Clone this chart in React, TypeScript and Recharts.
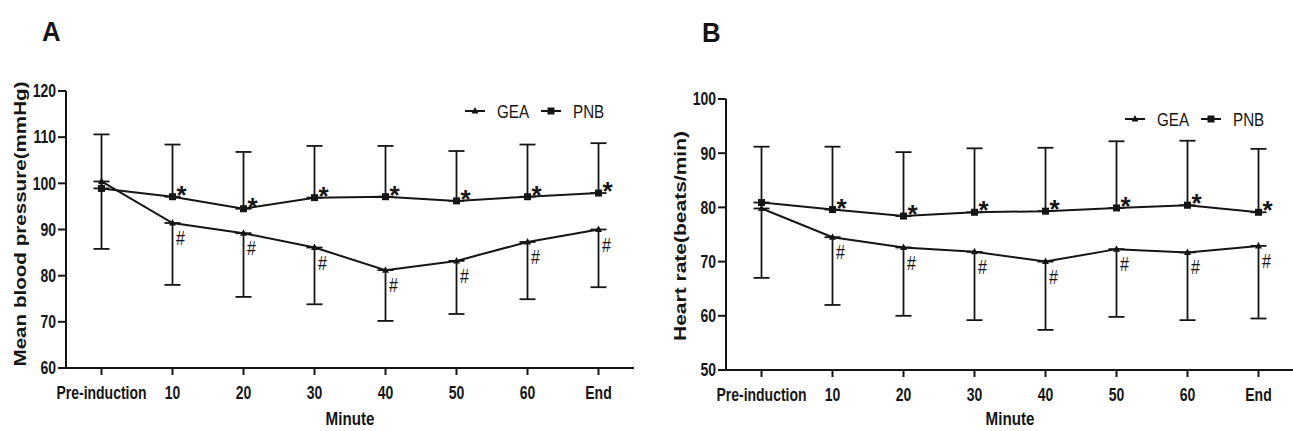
import React from "react"
import { LineChart, Line, XAxis, YAxis, ErrorBar, LabelList, Legend, Label } from "recharts"

const FONT = "'Liberation Sans', Arial, Helvetica, sans-serif"
const INK = "#151515"
// the source figure is squeezed sideways, so horizontal text is drawn narrower
const SQUASH = 0.8

const minutes = ["Pre-induction", "10", "20", "30", "40", "50", "60", "End"]
const geaMarks = ["", "#", "#", "#", "#", "#", "#", "#"]
const pnbMarks = ["", "*", "*", "*", "*", "*", "*", "*"]

// A: mean blood pressure (mmHg), mean and SD
const mapGea = [100.4, 91.4, 89.2, 86.1, 81.2, 83.2, 87.3, 90.0]
const mapGeaSd = [14.6, 13.4, 13.8, 12.3, 11.0, 11.5, 12.4, 12.5]
const mapPnb = [98.9, 97.1, 94.5, 96.9, 97.1, 96.2, 97.1, 97.9]
const mapPnbSd = [11.7, 11.3, 12.3, 11.2, 11.0, 10.8, 11.3, 10.8]
const mapTicks = [60, 70, 80, 90, 100, 110, 120]

// B: heart rate (beats/min), mean and SD
const hrGea = [79.8, 74.5, 72.6, 71.8, 70.0, 72.3, 71.7, 72.9]
const hrGeaSd = [12.8, 12.5, 12.6, 12.6, 12.6, 12.5, 12.5, 13.4]
const hrPnb = [80.9, 79.6, 78.4, 79.1, 79.3, 79.9, 80.4, 79.1]
const hrPnbSd = [10.3, 11.6, 11.8, 11.8, 11.7, 12.3, 11.9, 11.7]
const hrTicks = [50, 60, 70, 80, 90, 100]

function buildRows(gea: number[], geaSd: number[], pnb: number[], pnbSd: number[]) {
  return minutes.map((minute, i) => ({
    minute,
    gea: gea[i],
    geaErr: [geaSd[i], 0], // GEA bars point down
    pnb: pnb[i],
    pnbErr: [0, pnbSd[i]], // PNB bars point up
    geaSig: geaMarks[i],
    pnbSig: pnbMarks[i],
  }))
}

const mapRows = buildRows(mapGea, mapGeaSd, mapPnb, mapPnbSd)
const hrRows = buildRows(hrGea, hrGeaSd, hrPnb, hrPnbSd)

const TriangleDot = (props: any) => {
  const { cx, cy, index } = props
  if (cx == null || cy == null) return <g key={index} />
  return <path key={index} d={`M${cx},${cy - 4}L${cx + 3.5},${cy + 2.5}L${cx - 3.5},${cy + 2.5}Z`} fill={INK} />
}

const SquareDot = (props: any) => {
  const { cx, cy, index } = props
  if (cx == null || cy == null) return <g key={index} />
  return <rect key={index} x={cx - 3.5} y={cy - 3.5} width={7} height={7} fill={INK} />
}

const XTick = (props: any) => {
  const { x, y, payload } = props
  return (
    <text
      transform={`translate(${x},${y}) scale(${SQUASH},1)`}
      textAnchor="middle"
      dy="0.71em"
      fontFamily={FONT}
      fontWeight="bold"
      fontSize={17.5}
      fill={INK}
    >
      {payload.value}
    </text>
  )
}

const YTick = (props: any) => {
  const { x, y, payload } = props
  return (
    <text
      transform={`translate(${x},${y}) scale(${SQUASH},1)`}
      textAnchor="end"
      dy="0.36em"
      fontFamily={FONT}
      fontWeight="bold"
      fontSize={17.5}
      fill={INK}
    >
      {payload.value}
    </text>
  )
}

const StarMark = (props: any) => {
  const { x, y, value } = props
  if (!value) return null
  return (
    <text x={x + 9} y={y + 7} textAnchor="middle" fontFamily={FONT} fontWeight="bold" fontSize={26} fill={INK}>
      {value}
    </text>
  )
}

const HashMark = (props: any) => {
  const { x, y, value } = props
  if (!value) return null
  return (
    <text
      transform={`translate(${x + 8},${y + 22}) scale(${SQUASH},1)`}
      textAnchor="middle"
      fontFamily={FONT}
      fontSize={20}
      fill={INK}
    >
      {value}
    </text>
  )
}

const MinuteLabel = (props: any) => {
  const { viewBox } = props
  const cx = viewBox.x + viewBox.width / 2
  return (
    <text
      transform={`translate(${cx},425) scale(${SQUASH},1)`}
      textAnchor="middle"
      fontFamily={FONT}
      fontWeight="bold"
      fontSize={19}
      fill={INK}
    >
      Minute
    </text>
  )
}

const renderLegend = (props: any) => {
  const items = props.payload || []
  return (
    <svg width={160} height={22}>
      {items.map((item: any, i: number) => {
        const x0 = i === 0 ? 3 : 79
        const mx = x0 + 10
        return (
          <g key={item.value}>
            <line x1={x0} y1={11} x2={x0 + 20} y2={11} stroke={INK} strokeWidth={2} />
            {item.value === "GEA" ? (
              <path d={`M${mx},${7}L${mx + 3.5},${13.5}L${mx - 3.5},${13.5}Z`} fill={INK} />
            ) : (
              <rect x={mx - 3.5} y={7.5} width={7} height={7} fill={INK} />
            )}
            <text
              transform={`translate(${x0 + 32},11) scale(${SQUASH},1)`}
              dy="0.36em"
              fontFamily={FONT}
              fontSize={19}
              fill={INK}
            >
              {item.value}
            </text>
          </g>
        )
      })}
    </svg>
  )
}

interface PanelProps {
  left: number
  width: number
  top: number
  bottom: number
  right: number
  axisWidth: number
  rows: any[]
  domain: [number, number]
  ticks: number[]
  yLabel: string
  yLabelLength: number
  yLabelX: number
  yLabelShift: number
  legendLeft: number
  legendTop: number
}

function Panel(p: PanelProps) {
  const axisStyle = { stroke: INK, strokeWidth: 2 }
  return (
    <div style={{ position: "absolute", left: p.left, top: 0 }}>
      <LineChart width={p.width} height={431} data={p.rows} margin={{ top: p.top, right: p.right, bottom: p.bottom, left: 0 }}>
        <XAxis
          dataKey="minute"
          interval={0}
          height={40}
          padding={{ left: 35.5, right: 35.5 }}
          axisLine={axisStyle}
          tickLine={axisStyle}
          tickSize={7}
          tickMargin={12}
          tick={XTick}
        >
          <Label content={MinuteLabel} />
        </XAxis>
        <YAxis
          type="number"
          domain={p.domain}
          ticks={p.ticks}
          width={p.axisWidth}
          axisLine={axisStyle}
          tickLine={axisStyle}
          tickSize={8}
          tickMargin={2}
          tick={YTick}
        >
          <Label
            content={(lp: any) => {
              const vb = lp.viewBox
              const x = vb.x + p.yLabelX
              const y = vb.y + vb.height / 2 + p.yLabelShift
              return (
                <text
                  x={x}
                  y={y}
                  transform={`rotate(-90 ${x} ${y})`}
                  textAnchor="middle"
                  dy="0.36em"
                  textLength={p.yLabelLength}
                  lengthAdjust="spacingAndGlyphs"
                  fontFamily={FONT}
                  fontWeight="bold"
                  fontSize={17}
                  fill={INK}
                >
                  {p.yLabel}
                </text>
              )
            }}
          />
        </YAxis>
        <Legend
          layout="horizontal"
          verticalAlign="middle"
          align="center"
          wrapperStyle={{ left: p.legendLeft, top: p.legendTop, width: 160, height: 22 }}
          content={renderLegend}
        />
        <Line
          dataKey="gea"
          name="GEA"
          stroke={INK}
          strokeWidth={2}
          dot={TriangleDot}
          activeDot={false}
          isAnimationActive={false}
        >
          <ErrorBar dataKey="geaErr" direction="y" width={8} strokeWidth={1.8} stroke={INK} />
          <LabelList dataKey="geaSig" content={HashMark} />
        </Line>
        <Line
          dataKey="pnb"
          name="PNB"
          stroke={INK}
          strokeWidth={2}
          dot={SquareDot}
          activeDot={false}
          isAnimationActive={false}
        >
          <ErrorBar dataKey="pnbErr" direction="y" width={8} strokeWidth={1.8} stroke={INK} />
          <LabelList dataKey="pnbSig" content={StarMark} />
        </Line>
      </LineChart>
    </div>
  )
}

export default function App() {
  return (
    <div
      style={{
        position: "absolute",
        left: 0,
        top: 0,
        width: 1293,
        height: 431,
        overflow: "hidden",
        background: "#fff",
      }}
    >
      <Panel
        left={0}
        width={640}
        top={91}
        bottom={23}
        right={6}
        axisWidth={66}
        rows={mapRows}
        domain={[60, 120]}
        ticks={mapTicks}
        yLabel="Mean blood pressure(mmHg)"
        yLabelLength={285}
        yLabelX={20}
        yLabelShift={-5.5}
        legendLeft={462}
        legendTop={100}
      />
      <Panel
        left={640}
        width={654}
        top={99}
        bottom={21}
        right={0}
        axisWidth={86}
        rows={hrRows}
        domain={[50, 100]}
        ticks={hrTicks}
        yLabel="Heart rate(beats/min)"
        yLabelLength={210}
        yLabelX={40}
        yLabelShift={1.5}
        legendLeft={482}
        legendTop={108}
      />
      <svg width={1293} height={431} style={{ position: "absolute", left: 0, top: 0, pointerEvents: "none" }}>
        <text transform="translate(42,41) scale(0.92,1)" fontFamily={FONT} fontWeight="bold" fontSize={28} fill={INK}>
          A
        </text>
        <text transform="translate(702,42) scale(0.92,1)" fontFamily={FONT} fontWeight="bold" fontSize={28} fill={INK}>
          B
        </text>
      </svg>
    </div>
  )
}
